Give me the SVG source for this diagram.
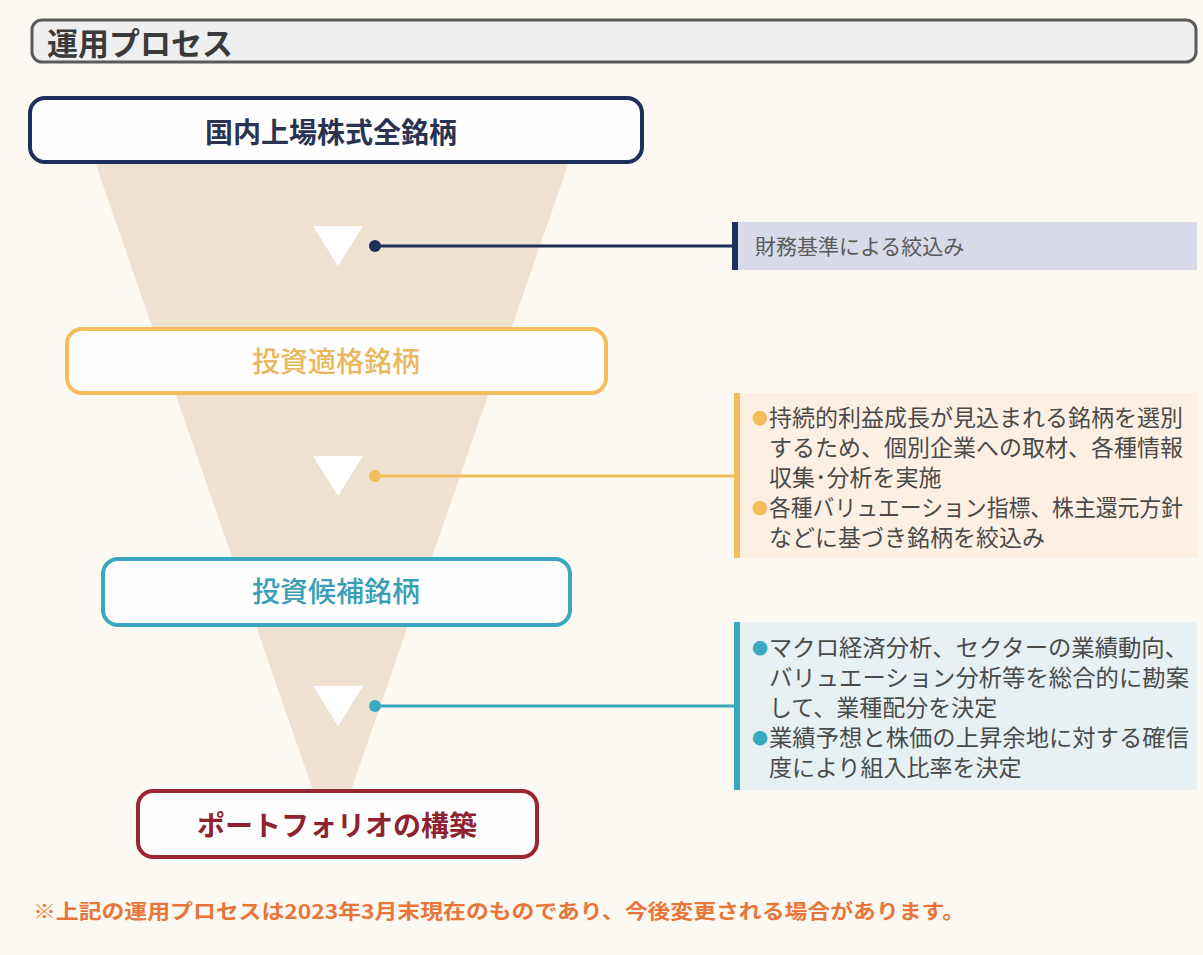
<svg xmlns="http://www.w3.org/2000/svg" width="1203" height="955" viewBox="0 0 1203 955">
<style>
text{font-family:"Noto Sans CJK JP","Noto Sans",sans-serif}
.node{fill:#fefefe;stroke-width:4}
.nt{font-size:28px;text-anchor:middle}
.bt{font-size:23px;fill:#4a4a4a}
.bl{font-size:16px}
.y{fill:#f2bd5a}
.c{fill:#3aa8bf}
.tri{fill:#ffffff}
</style>
<rect x="0" y="0" width="1203" height="955" fill="#fbf9f1"/>
<g id="title">
<rect x="32" y="20" width="1164" height="42" rx="10" fill="#efefef" stroke="#5a5a5a" stroke-width="3"/>
<text x="47" y="55" font-size="31" font-weight="bold" fill="#3a3a3a">運用プロセス</text>
</g>
<g id="funnel">
<polygon points="95,162 569,162 332,845" fill="#eee1cf"/>
<polygon class="tri" points="313,226 363,226 338,266"/>
<polygon class="tri" points="313,456 363,456 338,496"/>
<polygon class="tri" points="313,686 363,686 338,726"/>
</g>
<g id="connectors">
<line x1="375" y1="246" x2="735" y2="246" stroke="#1f2f5c" stroke-width="3"/>
<circle cx="375" cy="246" r="6" fill="#1f2f5c"/>
<line x1="375" y1="476" x2="737" y2="476" stroke="#f2bd5a" stroke-width="3"/>
<circle cx="375" cy="476" r="6" fill="#f2bd5a"/>
<line x1="375" y1="706" x2="737" y2="706" stroke="#3aa8bf" stroke-width="3"/>
<circle cx="375" cy="706" r="6" fill="#3aa8bf"/>
</g>
<g id="node1">
<rect class="node" x="30" y="98" width="612" height="64" rx="15" stroke="#1f2f5c"/>
<text class="nt" x="331" y="143" font-weight="bold" fill="#2a3452">国内上場株式全銘柄</text>
</g>
<g id="node2">
<rect class="node" x="67" y="329" width="539" height="64" rx="15" stroke="#f2bd5a" stroke-width="3"/>
<text class="nt" x="336" y="372" font-weight="500" fill="#eab75c">投資適格銘柄</text>
</g>
<g id="node3">
<rect class="node" x="103" y="559" width="467" height="66" rx="15" stroke="#3aa8bf" stroke-width="3"/>
<text class="nt" x="336" y="602" font-weight="500" fill="#3a9fb5">投資候補銘柄</text>
</g>
<g id="node4">
<rect class="node" x="138" y="791" width="399" height="66" rx="15" stroke="#9b2632" stroke-width="3"/>
<text class="nt" x="337" y="836" font-weight="bold" fill="#8e2230">ポートフォリオの構築</text>
</g>
<g id="box1">
<rect x="735" y="222" width="462" height="48" fill="#d9dae7"/>
<rect x="732" y="222" width="6" height="48" fill="#1f2f5c"/>
<text x="755" y="254" font-size="21" fill="#5a5a5a">財務基準による絞込み</text>
</g>
<g id="box2">
<rect x="737" y="393" width="460" height="165" fill="#fdf0e2"/>
<rect x="734" y="393" width="6" height="165" fill="#f2bd5a"/>
<text class="bl y" x="752" y="424">●</text>
<text class="bt" x="769" y="426" textLength="414" lengthAdjust="spacingAndGlyphs">持続的利益成長が見込まれる銘柄を選別</text>
<text class="bt" x="769" y="456" textLength="414" lengthAdjust="spacingAndGlyphs">するため、個別企業への取材、各種情報</text>
<text class="bt" x="769" y="486">収集･分析を実施</text>
<text class="bl y" x="752" y="514">●</text>
<text class="bt" x="769" y="516" textLength="414" lengthAdjust="spacingAndGlyphs">各種バリュエーション指標、株主還元方針</text>
<text class="bt" x="769" y="546">などに基づき銘柄を絞込み</text>
</g>
<g id="box3">
<rect x="737" y="622" width="460" height="168" fill="#e7f1f3"/>
<rect x="734" y="622" width="6" height="168" fill="#3aa8bf"/>
<text class="bl c" x="752" y="654">●</text>
<text class="bt" x="769" y="656" textLength="419" lengthAdjust="spacingAndGlyphs">マクロ経済分析、セクターの業績動向、</text>
<text class="bt" x="769" y="686" textLength="420" lengthAdjust="spacingAndGlyphs">バリュエーション分析等を総合的に勘案</text>
<text class="bt" x="769" y="716">して、業種配分を決定</text>
<text class="bl c" x="752" y="744">●</text>
<text class="bt" x="769" y="746" textLength="420" lengthAdjust="spacingAndGlyphs">業績予想と株価の上昇余地に対する確信</text>
<text class="bt" x="769" y="776">度により組入比率を決定</text>
</g>
<g id="footnote">
<text x="33" y="919" font-size="20" font-weight="bold" fill="#e8763a" textLength="932" lengthAdjust="spacingAndGlyphs">※上記の運用プロセスは2023年3月末現在のものであり、今後変更される場合があります。</text>
</g>
</svg>
